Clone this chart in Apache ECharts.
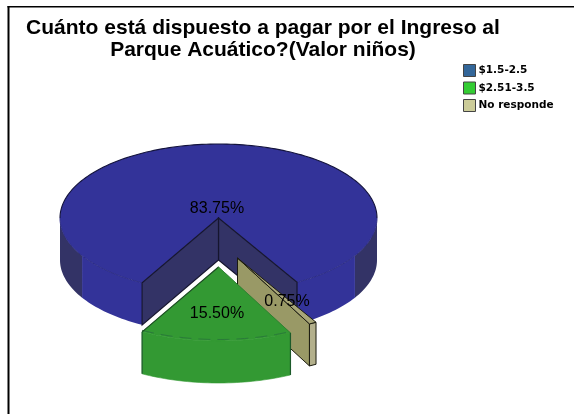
<!DOCTYPE html>
<html>
<head>
<meta charset="utf-8">
<style>html,body{margin:0;padding:0;background:#fff}#c{width:574px;height:414px}</style>
<script src="https://cdn.jsdelivr.net/npm/echarts@6/dist/echarts.min.js"></script>
</head>
<body>
<div id="c"></div>
<script>
// ---- data ----
const categories = ['$1.5-2.5', '$2.51-3.5', 'No responde'];
const values = [83.75, 15.50, 0.75];
const valueLabels = ['83.75%', '15.50%', '0.75%'];
const titleText = 'Cuánto está dispuesto a pagar por el Ingreso al\nParque Acuático?(Valor niños)';

// ---- geometry & style ----
const CX = 218.5, CY = 218, RX = 158.5, RY = 74, DEPTH = 42;
const START = 150.3;            // degrees clockwise from 12 o'clock; slices run counter-clockwise
const SHADE = 120.6;            // outer wall darkens beyond this angle
const explode = [[0, 0], [0, 49], [19, 40]];
const labelPos = [[217, 209], [217, 314], [287, 302]];
const legendColors = ['#336699', '#33cc33', '#cccc99'];

const total = values.reduce((a, b) => a + b, 0);
function sliceRange(i) {
  let a = START;
  for (let k = 0; k < i; k++) a -= values[k] / total * 360;
  return [a, a - values[i] / total * 360];
}
function pt(deg, ox, oy, down) {
  const r = deg * Math.PI / 180;
  return [CX + ox + RX * Math.sin(r), CY + oy - RY * Math.cos(r) + (down || 0)];
}
function arc(a, b, ox, oy, down) {
  const n = Math.max(2, Math.ceil(Math.abs(b - a) / 1.5));
  const out = [];
  for (let i = 0; i <= n; i++) out.push(pt(a + (b - a) * i / n, ox, oy, down));
  return out;
}
function wallBand(a, b, ox, oy) {
  return arc(a, b, ox, oy, 0).concat(arc(b, a, ox, oy, DEPTH));
}
const poly = (points, fill, stroke, lw, z2) => ({
  type: 'polygon', z2: z2 || 0, shape: { points },
  style: { fill: fill, stroke: stroke || null, lineWidth: lw || 0 }
});
const line = (points, stroke, lw, dash, z2) => ({
  type: 'polyline', z2: z2 || 0, shape: { points },
  style: { fill: null, stroke, lineWidth: lw, lineDash: dash || null }
});
const label = (i) => ({
  type: 'text', z2: 50, x: labelPos[i][0], y: labelPos[i][1],
  style: { text: valueLabels[i], font: '16px "Liberation Sans", Arial, sans-serif',
           fill: '#000', align: 'center', verticalAlign: 'middle' }
});

function drawBlue(i) {
  const [a, b] = sliceRange(i);       // a=150.3 -> b=-151.2
  const [ox, oy] = explode[i];
  const BLUE = '#333399', DARK = '#333366', EDGE = '#15152e';
  const c = [CX + ox, CY + oy];
  const ch = [];
  // outer front walls
  ch.push(poly(wallBand(90, SHADE, ox, oy), DARK));
  ch.push(poly(wallBand(SHADE, a, ox, oy), BLUE));
  ch.push(poly(wallBand(b, -SHADE, ox, oy), BLUE));
  ch.push(poly(wallBand(-SHADE, -90, ox, oy), DARK));
  // top
  ch.push(poly([c].concat(arc(a, b, ox, oy, 0)), BLUE));
  // rims
  ch.push(line(arc(-90, 90, ox, oy, 0), '#14143c', 1.1));
  ch.push(line(arc(90, a, ox, oy, 0), '#2d2d85', 1));
  ch.push(line(arc(-90, b, ox, oy, 0), '#2d2d85', 1));
  // cut faces
  [a, b].forEach(t => {
    const p = pt(t, ox, oy, 0);
    ch.push(poly([c, p, [p[0], p[1] + DEPTH], [c[0], c[1] + DEPTH]], DARK, EDGE, 1.2));
  });
  ch.push(label(i));
  return ch;
}
function drawGreen(i) {
  const [a, b] = sliceRange(i);
  const [ox, oy] = explode[i];
  const GREEN = '#339933';
  const c = [CX + ox, CY + oy];
  const pa = pt(a, ox, oy, 0), pb = pt(b, ox, oy, 0);
  const ch = [];
  ch.push(poly(wallBand(a, b, ox, oy), GREEN, GREEN, 0.6));
  ch.push(poly([c].concat(arc(a, b, ox, oy, 0)), GREEN, GREEN, 0.6));
  ch.push(line(arc(a, b, ox, oy, -1.5), '#2a7a3a', 1, [12, 7]));
  ch.push(line([c, pa], '#1b4a22', 1.1));     // right-hand edge (a is the right side)
  ch.push(line([c, pb], '#2a7a2f', 0.8));
  ch.push(line([pa, [pa[0], pa[1] + DEPTH]], '#1c5a2a', 1.2));
  ch.push(line([pb, [pb[0], pb[1] + DEPTH]], '#1c5a2a', 1.2));
  ch.push(label(i));
  return ch;
}
function drawKhaki(i) {
  const [a, b] = sliceRange(i);       // b..a, narrow
  const [ox, oy] = explode[i];
  const EDGE = '#1c1c10';
  const c = [CX + ox, CY + oy];
  const pa = pt(a, ox, oy, 0), pb = pt(b, ox, oy, 0);
  const ch = [];
  ch.push(poly([c, pa, [pa[0], pa[1] + DEPTH], [c[0], c[1] + DEPTH]], '#999966', EDGE, 1));
  ch.push(poly([pa, pb, [pb[0], pb[1] + DEPTH], [pa[0], pa[1] + DEPTH]], '#b3b08c', EDGE, 1));
  ch.push(poly([c, pa, pb], '#a8a678', EDGE, 1));
  ch.push(label(i));
  return ch;
}
const drawers = [drawBlue, drawGreen, drawKhaki];
const zOrder = [2, 4, 3];

const seriesList = categories.map((name, i) => ({
  type: 'custom',
  name,
  coordinateSystem: 'none',
  z: zOrder[i],
  silent: true,
  animation: false,
  data: [values[i]],
  renderItem: () => ({ type: 'group', children: drawers[i](i) })
}));

const chart = echarts.init(document.getElementById('c'));
chart.setOption({
  animation: false,
  backgroundColor: '#ffffff',
  title: {
    text: titleText,
    left: 258, top: 12, textAlign: 'center',
    textStyle: { fontFamily: '"Liberation Sans", Arial, sans-serif', fontWeight: 'bold',
                 fontSize: 21, lineHeight: 22, color: '#000' }
  },
  legend: {
    left: 463, top: 64, padding: 0, orient: 'vertical', itemWidth: 12, itemHeight: 12, itemGap: 4.5,
    icon: 'rect', selectedMode: false,
    textStyle: { fontFamily: '"DejaVu Sans", sans-serif', fontWeight: 'bold', fontSize: 10.5, color: '#000',
                 padding: [0, 0, 0, -2] },
    data: categories.map((name, i) => ({
      name, icon: 'rect',
      itemStyle: { color: legendColors[i], borderColor: '#444', borderWidth: 1 }
    }))
  },
  graphic: [
    { type: 'rect', silent: true, shape: { x: 7.5, y: 6, width: 2, height: 408 }, style: { fill: '#000' } },
    { type: 'rect', silent: true, shape: { x: 7.5, y: 6, width: 566.5, height: 1.6 }, style: { fill: '#000' } }
  ],
  series: seriesList
});
</script>
</body>
</html>
